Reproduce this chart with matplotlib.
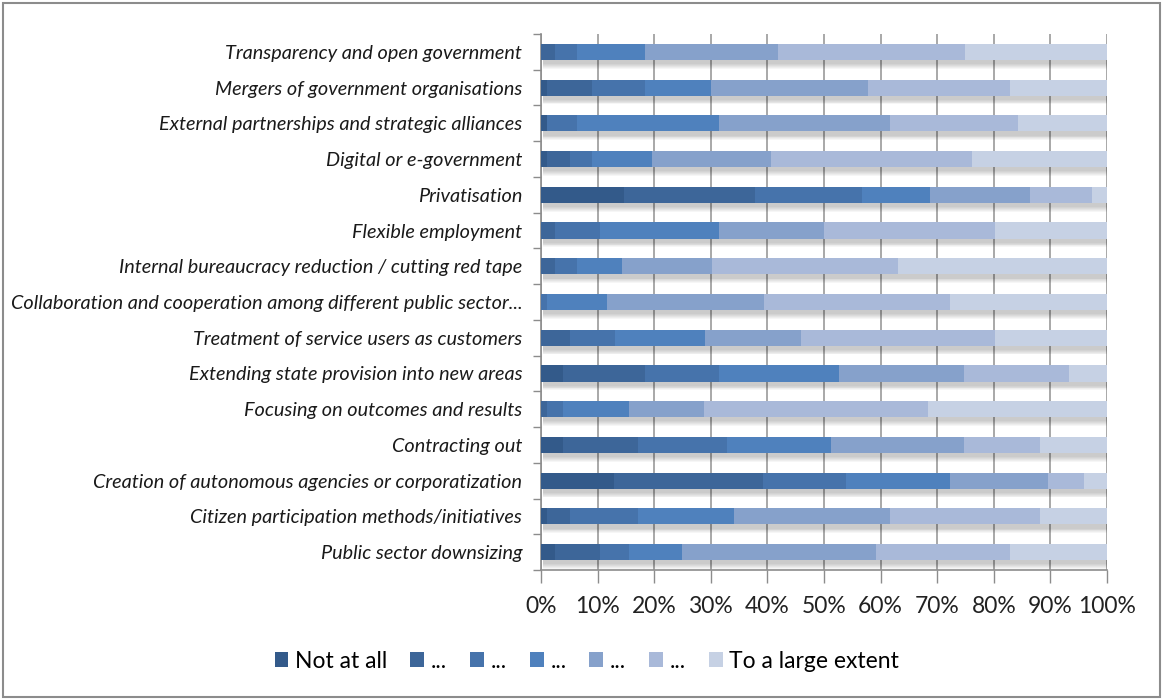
import matplotlib
matplotlib.use("Agg")
import matplotlib.pyplot as plt
from matplotlib.patches import Rectangle, Patch
import numpy as np

categories = [
    "Transparency and open government",
    "Mergers of government organisations",
    "External partnerships and strategic alliances",
    "Digital or e-government",
    "Privatisation",
    "Flexible employment",
    "Internal bureaucracy reduction / cutting red tape",
    "Collaboration and cooperation among different public sector...",
    "Treatment of service users as customers",
    "Extending state provision into new areas",
    "Focusing on outcomes and results",
    "Contracting out",
    "Creation of autonomous agencies or corporatization",
    "Citizen participation methods/initiatives",
    "Public sector downsizing",
]

series_names = ["Not at all", "...", "...", "...", "...", "...", "To a large extent"]

lvl1 = [0, 1.1, 1.1, 1.1, 14.7, 0, 0, 0, 0, 3.8, 0, 3.8, 12.9, 1.1, 2.5]
lvl2 = [2.5, 7.9, 0, 4.0, 23.1, 2.5, 2.5, 0, 5.1, 14.5, 1.1, 13.3, 26.4, 4.0, 7.9]
lvl3 = [3.9, 9.3, 5.3, 3.9, 19.0, 7.9, 3.9, 1.1, 7.9, 13.2, 2.7, 15.7, 14.6, 12.0, 5.2]
lvl4 = [11.9, 11.8, 25.0, 10.7, 12.0, 21.1, 7.9, 10.6, 15.9, 21.1, 11.7, 18.5, 18.3, 17.0, 9.4]
lvl5 = [23.5, 27.7, 30.3, 20.9, 17.7, 18.5, 15.9, 27.7, 17.0, 22.2, 13.3, 23.5, 17.3, 27.7, 34.2]
lvl6 = [33.0, 25.1, 22.5, 35.7, 10.9, 30.3, 32.9, 32.9, 34.4, 18.5, 39.5, 13.3, 6.5, 26.4, 23.8]
lvl7 = [25.1, 17.1, 15.8, 23.8, 2.7, 19.7, 36.9, 27.8, 19.7, 6.7, 31.7, 11.9, 4.0, 11.9, 17.1]

colors = ["#335a8a", "#3d6699", "#4673ab", "#4f81bd", "#86a1cb", "#a9b9d9", "#c6d1e4"]

levels = np.array([lvl1, lvl2, lvl3, lvl4, lvl5, lvl6, lvl7], dtype=float)
totals = levels.sum(axis=0)
shares = levels / totals * 100.0

fig = plt.figure(figsize=(11.63, 7.0), dpi=100)
fig.patch.set_facecolor("white")

# outer frame
fig.patches.append(Rectangle((3 / 1163, 3 / 700), 1157 / 1163, 694 / 700,
                             transform=fig.transFigure, fill=False,
                             edgecolor="#8c8c8c", linewidth=1.5))

ax = fig.add_axes([541 / 1163, 1 - 570 / 700, 566 / 1163, 536 / 700])
y = np.arange(len(categories))
bar_h = 0.45

# soft drop shadow beneath each bar
for k in range(6):
    ax.barh(y + 0.22 + k * 0.025, totals / totals * 100, height=bar_h * 0.55,
            left=0.3, color="black", alpha=0.035, linewidth=0, zorder=1)

left = np.zeros(len(categories))
for i in range(7):
    ax.barh(y, shares[i], left=left, height=bar_h, color=colors[i],
            linewidth=0, zorder=3, label=series_names[i])
    left += shares[i]

ax.set_xlim(0, 100)
ax.set_ylim(len(categories) - 0.5, -0.5)
ax.set_xticks(np.arange(0, 101, 10))
ax.set_xticklabels([f"{v}%" for v in range(0, 101, 10)],
                   fontsize=16.5, family="Lato", color="#222222")
ax.set_yticks(y)
ax.set_yticklabels(categories, fontsize=14.3, family="Lato", style="italic",
                   color="#1a1a1a")
ax.set_yticks(np.arange(-0.5, len(categories), 1), minor=True)
ax.tick_params(axis="y", which="major", length=0, pad=13.5)
ax.tick_params(axis="y", which="minor", length=6, color="#8c8c8c", width=1, direction="out")
ax.tick_params(axis="x", which="major", length=9, color="#8c8c8c", width=1,
               direction="out", pad=10)
ax.grid(axis="x", color="#9a9a9a", linewidth=1.2, zorder=0)
ax.set_axisbelow(True)
for s in ["top", "right"]:
    ax.spines[s].set_visible(False)
for s in ["left", "bottom"]:
    ax.spines[s].set_color("#8c8c8c")
    ax.spines[s].set_linewidth(1.2)

handles = [Patch(facecolor=c, edgecolor="none") for c in colors]
fig.legend(handles, series_names, loc="center", bbox_to_anchor=(587 / 1163, 1 - 661 / 700),
           ncol=7, frameon=False, prop={"family": "Lato", "size": 16.5},
           handlelength=0.6, handleheight=0.6, handletextpad=0.3,
           columnspacing=1.0)

fig.savefig("out.png", dpi=100, facecolor="white")
